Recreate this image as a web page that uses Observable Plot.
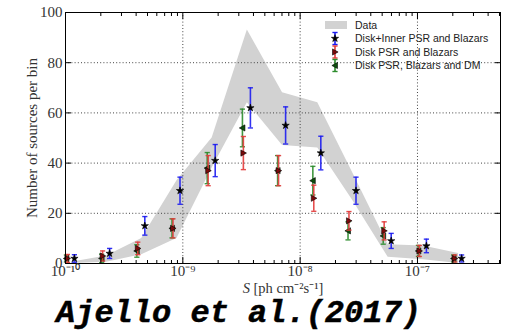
<!DOCTYPE html>
<html><head><meta charset="utf-8">
<script src="https://cdn.jsdelivr.net/npm/d3@7"></script>
<script src="https://cdn.jsdelivr.net/npm/@observablehq/plot@0.6"></script>
<style>
body{margin:0;background:#fff;}
#wrap{position:relative;width:510px;height:332px;overflow:hidden;background:#fff;}
#wrap svg{display:block;}
.xl{position:absolute;left:183px;width:200px;top:281px;line-height:15px;text-align:center;font-family:"Liberation Serif",serif;font-size:14.5px;color:#333;white-space:nowrap;}
.cite{position:absolute;left:56px;top:302px;line-height:24px;font-family:"Liberation Mono",monospace;font-weight:bold;font-style:italic;font-size:32px;color:#000;white-space:nowrap;-webkit-text-stroke:0.5px #000;}
.leg{position:absolute;left:0;top:0;}
</style></head><body><div id="wrap"></div>
<script>
// bin centres of the flux histogram (ph cm^-2 s^-1)
const binCenters = [1.122e-10, 2.239e-10, 4.467e-10, 8.913e-10, 1.778e-9, 3.548e-9, 7.079e-9, 1.413e-8, 2.818e-8, 5.623e-8, 1.122e-7, 2.239e-7];
// grey "Data" band
const dataLow  = [0, 0.5, 3.5, 10, 38, 64, 47, 46, 25, 2.5, 1.5, 0];
const dataHigh = [0.5, 3, 10, 33, 50, 93, 68, 64, 36, 7.5, 7, 4];
// Disk+Inner PSR and Blazars (blue)
const blueVals = [2, 4, 15, 29, 41, 62, 55, 44, 29, 9, 7, 2];
const blueErr  = [1.5, 2, 3.7, 5.4, 6.4, 8, 7.4, 6.7, 5.4, 3, 2.7, 1.4];
// Disk PSR and Blazars (red)
const redVals = [2, 3, 6, 14, 37, 44, 37, 26, 17, 13, 5, 2];
const redErr  = [1.6, 2, 2.5, 3.8, 6, 6.6, 6, 5.2, 3.7, 3.6, 2.2, 1.4];
// Disk PSR, Blazars and DM (green)
const greenVals = [2, 2, 5, 14, 38, 54, 37, 33, 13, 11, 5, 2];
const greenErr  = [1.4, 1.7, 2.5, 3.8, 6.2, 7.5, 6, 5.7, 3.6, 3.3, 2.2, 1.4];
// ticks and labels
const xTicks = [1e-10, 1e-9, 1e-8, 1e-7];
const yTicks = [0, 20, 40, 60, 80, 100];
const legendLabels = ["Data", "Disk+Inner PSR and Blazars", "Disk PSR and Blazars", "Disk PSR, Blazars and DM"];
const yLabel = "Number of sources per bin";
const xLabelRest = " [ph cm\u207B\u00B2s\u207B\u00B9]";
const citation = "Ajello et al.(2017)";

const band = binCenters.map((x, i) => ({x, lo: dataLow[i], hi: dataHigh[i]}));
function series(vals, errs, shift) {
  return vals.map((v, i) => ({x: binCenters[i] * Math.pow(10, shift), v, lo: v - errs[i], hi: v + errs[i]}));
}
const blue = series(blueVals, blueErr, 0.026);
const red = series(redVals, redErr, -0.034);
const green = series(greenVals, greenErr, -0.042);

const capSym = {draw(ctx, size) { const r = Math.sqrt(size / Math.PI); ctx.moveTo(-r, 0); ctx.lineTo(r, 0); }};
const triRight = {draw(ctx, size) { const r = Math.sqrt(size / Math.PI); ctx.moveTo(r, 0); ctx.lineTo(-r * 0.8, -r); ctx.lineTo(-r * 0.8, r); ctx.closePath(); }};
const triLeft = {draw(ctx, size) { const r = Math.sqrt(size / Math.PI); ctx.moveTo(-r, 0); ctx.lineTo(r * 0.8, -r); ctx.lineTo(r * 0.8, r); ctx.closePath(); }};

const sup = {"-": "\u207B", "0": "\u2070", "1": "\u00B9", "2": "\u00B2", "3": "\u00B3", "4": "\u2074", "5": "\u2075", "6": "\u2076", "7": "\u2077", "8": "\u2078", "9": "\u2079"};
const fmtPow = d => "10" + String(Math.round(Math.log10(d))).split("").map(c => sup[c]).join("");

const minor = [];
for (let e = -10; e <= -7; e++) for (let m = 2; m <= 9; m++) { const v = m * Math.pow(10, e); if (v < 5.1e-7) minor.push(v); }

const colB = "#1c1cf0", colR = "#e23b3b", colG = "#2c8c2c";
const starR = 2.3, triR = 3.1;
function errMarks(d, col, sym, fill) {
  return [
    Plot.ruleX(d, {x: "x", y1: "lo", y2: "hi", stroke: col, strokeWidth: 1.6, strokeOpacity: 0.9}),
    Plot.dot(d, {x: "x", y: "lo", symbol: capSym, r: 2.6, stroke: col, strokeWidth: 1.4, strokeOpacity: 0.9}),
    Plot.dot(d, {x: "x", y: "hi", symbol: capSym, r: 2.6, stroke: col, strokeWidth: 1.4, strokeOpacity: 0.9}),
    Plot.dot(d, {x: "x", y: "v", symbol: sym, r: sym === "star" ? starR : triR, fill, stroke: "#000", strokeWidth: 0.6})
  ];
}

const chart = Plot.plot({
  width: 510, height: 332,
  marginLeft: 65, marginRight: 10, marginTop: 12, marginBottom: 69,
  style: {fontFamily: "'Liberation Serif', serif", fontSize: "15px", color: "#333", background: "#fff"},
  x: {type: "log", domain: [1e-10, 5.1e-7]},
  y: {domain: [0, 100]},
  marks: [
    Plot.areaY(band, {x: "x", y1: "lo", y2: "hi", fill: "#d2d2d2"}),
    Plot.ruleX(xTicks.slice(1), {stroke: "#444", strokeDasharray: "1,2.2"}),
    Plot.ruleY(yTicks.slice(1, -1), {stroke: "#444", strokeDasharray: "1,2.2"}),
    ...errMarks(green, colG, triLeft, "#0d4f0d"),
    ...errMarks(red, colR, triRight, "#7a0a0a"),
    ...errMarks(blue, colB, "star", "#000"),
    Plot.frame({stroke: "#000", strokeWidth: 1}),
    // inward major/minor ticks, bottom and top
    Plot.axisX(xTicks, {anchor: "bottom", tickSize: 6, dy: -6, fill: "none", stroke: "#000", label: null}),
    Plot.axisX(minor, {anchor: "bottom", tickSize: 3, dy: -3, fill: "none", stroke: "#000", label: null}),
    Plot.axisX(xTicks, {anchor: "top", tickSize: 6, dy: 6, fill: "none", stroke: "#000", label: null}),
    Plot.axisX(minor, {anchor: "top", tickSize: 3, dy: 3, fill: "none", stroke: "#000", label: null}),
    Plot.axisY(yTicks, {anchor: "left", tickSize: 6, dx: 6, fill: "none", stroke: "#000", label: null}),
    Plot.axisY(yTicks, {anchor: "right", tickSize: 6, dx: -6, fill: "none", stroke: "#000", label: null}),
    // tick labels
    Plot.axisX(xTicks, {anchor: "bottom", tickSize: 0, tickPadding: 2, tickFormat: fmtPow, label: null, fill: "#333"}),
    Plot.axisY(yTicks, {anchor: "left", tickSize: 0, tickPadding: 3, label: yLabel, labelAnchor: "center", labelArrow: "none", labelOffset: 39, fill: "#333"})
  ]
});
const wrap = document.getElementById("wrap");
wrap.appendChild(chart);

// x-axis label with italic S and superscripts
const xl = document.createElement("div");
xl.className = "xl";
const si = document.createElement("i");
si.textContent = "S";
xl.appendChild(si);
xl.appendChild(document.createTextNode(xLabelRest));
wrap.appendChild(xl);

// citation
const cite = document.createElement("div");
cite.className = "cite";
cite.textContent = citation;
wrap.appendChild(cite);

// legend
const leg = d3.select(wrap).append("svg").attr("class", "leg").attr("width", 510).attr("height", 90);
const rowsY = [25, 38.5, 52, 65.5];
const legCols = [null, colB, colR, colG];
const legFill = [null, "#000", "#7a0a0a", "#0d4f0d"];
legendLabels.forEach((lab, i) => {
  const y = rowsY[i];
  if (i === 0) {
    leg.append("rect").attr("x", 325).attr("y", y - 4).attr("width", 22).attr("height", 8).attr("fill", "#d2d2d2");
  } else {
    const c = legCols[i];
    leg.append("line").attr("x1", 335).attr("x2", 335).attr("y1", y - 6).attr("y2", y + 6).attr("stroke", c).attr("stroke-width", 1.6);
    leg.append("line").attr("x1", 332.4).attr("x2", 337.6).attr("y1", y - 6).attr("y2", y - 6).attr("stroke", c).attr("stroke-width", 1.4);
    leg.append("line").attr("x1", 332.4).attr("x2", 337.6).attr("y1", y + 6).attr("y2", y + 6).attr("stroke", c).attr("stroke-width", 1.4);
    const sym = i === 1 ? d3.symbolStar : (i === 2 ? triRight : triLeft);
    const rr = i === 1 ? starR : triR;
    leg.append("path").attr("transform", `translate(335,${y})`).attr("d", d3.symbol(sym, Math.PI * rr * rr)()).attr("fill", legFill[i]).attr("stroke", "#000").attr("stroke-width", 0.6);
  }
  leg.append("text").attr("x", 355).attr("y", y).attr("dy", "0.35em").attr("font-family", "'Liberation Sans', Arial, sans-serif").attr("font-size", "10.5px").attr("fill", "#222").text(lab);
});
</script>
</body></html>
